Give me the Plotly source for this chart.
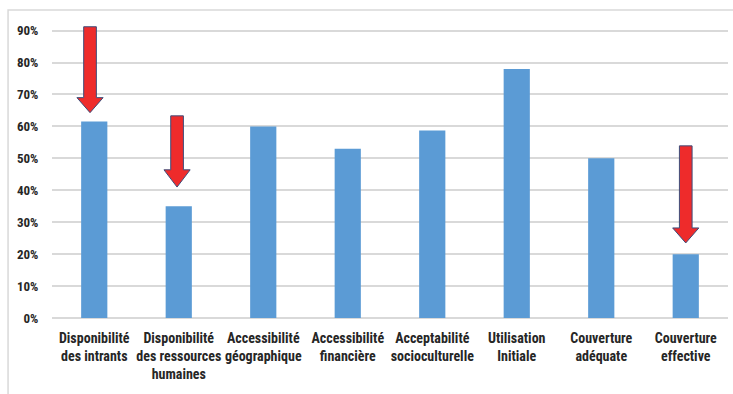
import plotly.graph_objects as go

# Bar chart of indicator levels with red arrows highlighting the drops
categories = [
    "Disponibilité<br>des intrants",
    "Disponibilité<br>des ressources<br>humaines",
    "Accessibilité<br>géographique",
    "Accessibilité<br>financière",
    "Acceptabilité<br>socioculturelle",
    "Utilisation<br>Initiale",
    "Couverture<br>adéquate",
    "Couverture<br>effective",
]
values = [0.615, 0.35, 0.60, 0.53, 0.587, 0.78, 0.50, 0.20]

# Arrows: category index, top of shaft, base of head, tip (as fractions)
arrow_x = [-0.05, 0.98, 7.0]
arrow_top = [0.912, 0.633, 0.539]
arrow_head = [0.69, 0.464, 0.282]
arrow_tip = [0.643, 0.41, 0.235]

BAR_COLOR = "#5b9bd5"
GRID = "#d9d9d9"
FONT = "Liberation Sans Narrow, Roboto Condensed, Roboto, sans-serif"

fig = go.Figure()
fig.add_trace(go.Bar(
    x=list(range(len(categories))),
    y=values,
    marker=dict(color=BAR_COLOR, line=dict(width=0)),
    width=0.31,
    hoverinfo="skip",
))

shapes = []
shaft_hw = 0.075
head_hw = 0.155
for cx, top, head, tip in zip(arrow_x, arrow_top, arrow_head, arrow_tip):
    path = (
        f"M {cx - shaft_hw},{top} L {cx + shaft_hw},{top} "
        f"L {cx + shaft_hw},{head} L {cx + head_hw},{head} "
        f"L {cx},{tip} L {cx - head_hw},{head} "
        f"L {cx - shaft_hw},{head} Z"
    )
    shapes.append(dict(
        type="path", path=path, xref="x", yref="y",
        fillcolor="#ee2b2b", line=dict(color="#3d4d7a", width=1),
        layer="above",
    ))

# Outer frame around the chart
shapes.append(dict(
    type="rect", xref="paper", yref="paper",
    x0=-0.065, x1=1.02, y0=-0.4, y1=1.037,
    line=dict(color=GRID, width=1.5), fillcolor="rgba(0,0,0,0)",
    layer="below",
))

fig.update_layout(
    width=733, height=394,
    margin=dict(l=52, r=5, t=21, b=76),
    paper_bgcolor="white", plot_bgcolor="white",
    showlegend=False,
    shapes=shapes,
    font=dict(family=FONT, color="#262626"),
    xaxis=dict(
        range=[-0.5, 7.5],
        tickmode="array",
        tickvals=list(range(len(categories))),
        ticktext=categories,
        tickfont=dict(size=14, weight="bold", family=FONT, color="#262626"),
        ticks="outside", ticklen=7, tickcolor="rgba(0,0,0,0)",
        showgrid=False, zeroline=False, showline=False,
    ),
    yaxis=dict(
        range=[0, 0.93],
        tickvals=[0, 0.1, 0.2, 0.3, 0.4, 0.5, 0.6, 0.7, 0.8, 0.9],
        tickformat=".0%",
        tickfont=dict(size=13, weight="bold", family=FONT, color="#262626"),
        showgrid=True, gridcolor=GRID, gridwidth=1.5,
        zeroline=True, zerolinecolor=GRID, zerolinewidth=1.5,
        showline=False,
        ticks="outside", ticklen=10, tickcolor="rgba(0,0,0,0)",
    ),
)

fig.write_html("out.html")
